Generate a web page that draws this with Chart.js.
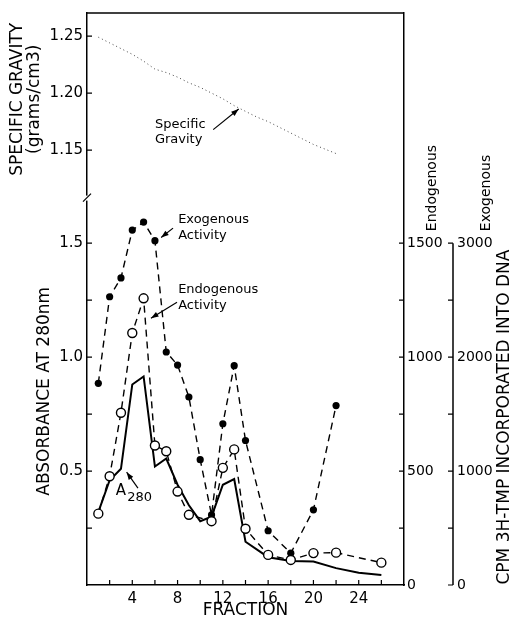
<!DOCTYPE html>
<html>
<head>
<meta charset="utf-8">
<script src="https://cdn.jsdelivr.net/npm/chart.js@4.4.0/dist/chart.umd.min.js"></script>
<style>
  body { margin: 0; background: #fff; }
</style>
</head>
<body>
<canvas id="grafico" width="516" height="621"></canvas>
<script>
// valores
const fracA280 = [1, 2, 3, 4, 5, 6, 7, 8, 9, 10, 11, 12, 13, 14, 16, 18, 20, 22, 24, 26];
const a280 = [0.32, 0.46, 0.51, 0.88, 0.915, 0.52, 0.555, 0.44, 0.35, 0.28, 0.30, 0.44, 0.465, 0.19, 0.122, 0.105, 0.103, 0.074, 0.054, 0.044];

const fracEndo = [1, 2, 3, 4, 5, 6, 7, 8, 9, 11, 12, 13, 14, 16, 18, 20, 22, 26];
const endogenous = [313, 477, 756, 1106, 1258, 612, 587, 410, 308, 280, 514, 595, 247, 132, 110, 140, 142, 98];

const fracExo = [1, 2, 3, 4, 5, 6, 7, 8, 9, 10, 11, 12, 13, 14, 16, 18, 20, 22];
const exogenous = [1770, 2530, 2695, 3115, 3185, 3022, 2045, 1930, 1650, 1100, 615, 1415, 1925, 1268, 476, 279, 660, 1575];

const fracSG = [1, 2, 3, 4, 5, 6, 7, 8, 9, 10, 11, 12, 13, 14, 15, 16, 17, 18, 19, 20, 21, 22];
const specificGravity = [1.249, 1.244, 1.239, 1.234, 1.228, 1.221, 1.218, 1.214, 1.209, 1.205, 1.200, 1.195, 1.189, 1.184, 1.179, 1.175, 1.170, 1.165, 1.160, 1.155, 1.151, 1.147];

// marcas e rotulos dos eixos
const xTicks = [2, 4, 6, 8, 10, 12, 14, 16, 18, 20, 22, 24, 26];
const xLabels = [4, 8, 12, 16, 20, 24];
const absTicks = [0.25, 0.5, 0.75, 1.0, 1.25, 1.5];
const absLabels = [0.5, 1.0, 1.5];
const sgTicks = [1.15, 1.20, 1.25];
const endoTicks = [0, 250, 500, 750, 1000, 1250, 1500];
const endoLabels = [0, 500, 1000, 1500];
const exoTicks = [0, 500, 1000, 1500, 2000, 2500, 3000];
const exoLabels = [0, 1000, 2000, 3000];

// pesos dos dois paineis (gravidade em cima, absorbancia embaixo)
const pesoTopo = 184.6;
const pesoBaixo = 387.4;
const absMax = 1.7;
const fatorAltura = (pesoTopo + pesoBaixo) / pesoBaixo;

Chart.defaults.font.family = 'DejaVu Sans';
Chart.defaults.color = '#000';

function pontos(xs, ys) {
  return xs.map((x, i) => ({ x: x, y: ys[i] }));
}

function perto(lista, v) {
  return lista.some(t => Math.abs(t - v) < 1e-6);
}

function fixarTicks(lista) {
  return s => { s.ticks = lista.map(v => ({ value: v })); };
}

function seta(ctx, x1, y1, x2, y2) {
  const ang = Math.atan2(y2 - y1, x2 - x1);
  ctx.beginPath();
  ctx.moveTo(x1, y1);
  ctx.lineTo(x2, y2);
  ctx.stroke();
  ctx.beginPath();
  ctx.moveTo(x2, y2);
  ctx.lineTo(x2 - 8 * Math.cos(ang - 0.35), y2 - 8 * Math.sin(ang - 0.35));
  ctx.lineTo(x2 - 8 * Math.cos(ang + 0.35), y2 - 8 * Math.sin(ang + 0.35));
  ctx.closePath();
  ctx.fill();
}

function textoVertical(ctx, txt, x, y, align) {
  ctx.save();
  ctx.translate(x, y);
  ctx.rotate(-Math.PI / 2);
  ctx.textAlign = align;
  ctx.textBaseline = 'middle';
  ctx.fillText(txt, 0, 0);
  ctx.restore();
}

const extras = {
  id: 'extras',
  afterDraw(chart) {
    const ctx = chart.ctx;
    const area = chart.chartArea;
    const sx = chart.scales.x;
    const sy = chart.scales.y;
    const sg = chart.scales.ySG;
    const en = chart.scales.yEndo;
    const ex = chart.scales.yExo;

    ctx.save();
    ctx.strokeStyle = '#000';
    ctx.fillStyle = '#000';
    ctx.lineWidth = 1.5;

    // borda de cima
    ctx.beginPath();
    ctx.moveTo(area.left, area.top);
    ctx.lineTo(area.right, area.top);
    ctx.stroke();

    // eixo exogenous so de 0 a 3000
    ctx.beginPath();
    ctx.moveTo(ex.left, ex.getPixelForValue(0));
    ctx.lineTo(ex.left, ex.getPixelForValue(3000));
    ctx.stroke();

    // marcas para dentro
    ctx.lineWidth = 1.2;
    ctx.beginPath();
    sx.ticks.forEach(t => {
      const px = sx.getPixelForValue(t.value);
      ctx.moveTo(px, area.bottom);
      ctx.lineTo(px, area.bottom - 5);
    });
    sy.ticks.forEach(t => {
      const py = sy.getPixelForValue(t.value);
      ctx.moveTo(area.left, py);
      ctx.lineTo(area.left + 5, py);
    });
    sg.ticks.forEach(t => {
      const py = sg.getPixelForValue(t.value);
      ctx.moveTo(area.left, py);
      ctx.lineTo(area.left + 5, py);
    });
    en.ticks.forEach(t => {
      if (t.value <= 0) return;
      const py = en.getPixelForValue(t.value);
      ctx.moveTo(area.right, py);
      ctx.lineTo(area.right - 5, py);
    });
    ex.ticks.forEach(t => {
      const py = ex.getPixelForValue(t.value);
      ctx.moveTo(ex.left, py);
      ctx.lineTo(ex.left - 5, py);
    });
    ctx.stroke();

    // quebra do eixo
    const yq = sy.getPixelForValue(absMax);
    ctx.fillStyle = '#fff';
    ctx.fillRect(area.left - 2, yq - 2, 4, 5);
    ctx.fillStyle = '#000';
    ctx.lineWidth = 1.3;
    ctx.beginPath();
    ctx.moveTo(area.left - 4, yq + 4);
    ctx.lineTo(area.left + 4, yq - 4);
    ctx.stroke();

    // titulos dos eixos
    ctx.font = '17px "DejaVu Sans"';
    textoVertical(ctx, 'SPECIFIC GRAVITY', 18, (area.top + yq) / 2 - 6, 'center');
    textoVertical(ctx, '(grams/cm3)', 35, (area.top + yq) / 2 - 6, 'center');
    textoVertical(ctx, 'ABSORBANCE AT 280nm', 45, (yq + area.bottom) / 2, 'center');
    textoVertical(ctx, 'CPM 3H-TMP INCORPORATED INTO DNA', 505, sy.getPixelForValue(0.75) + 3, 'center');
    ctx.font = '14px "DejaVu Sans"';
    textoVertical(ctx, 'Endogenous', 432, en.getPixelForValue(1500) - 12, 'left');
    textoVertical(ctx, 'Exogenous', 486, ex.getPixelForValue(3000) - 12, 'left');

    // anotacoes
    ctx.font = '13px "DejaVu Sans"';
    ctx.textAlign = 'left';
    ctx.textBaseline = 'middle';
    ctx.lineWidth = 1.2;
    ctx.fillText('Specific', sx.getPixelForValue(6.0), sg.getPixelForValue(1.172));
    ctx.fillText('Gravity', sx.getPixelForValue(6.0), sg.getPixelForValue(1.159));
    seta(ctx, sx.getPixelForValue(11.15), sg.getPixelForValue(1.168), sx.getPixelForValue(13.4), sg.getPixelForValue(1.186));

    ctx.fillText('Exogenous', sx.getPixelForValue(8.05), sy.getPixelForValue(1.605));
    ctx.fillText('Activity', sx.getPixelForValue(8.05), sy.getPixelForValue(1.535));
    seta(ctx, sx.getPixelForValue(7.6), sy.getPixelForValue(1.566), sx.getPixelForValue(6.55), sy.getPixelForValue(1.525));

    ctx.fillText('Endogenous', sx.getPixelForValue(8.05), sy.getPixelForValue(1.294));
    ctx.fillText('Activity', sx.getPixelForValue(8.05), sy.getPixelForValue(1.228));
    seta(ctx, sx.getPixelForValue(7.95), sy.getPixelForValue(1.241), sx.getPixelForValue(5.65), sy.getPixelForValue(1.171));

    ctx.font = '15px "DejaVu Sans"';
    ctx.fillText('A', sx.getPixelForValue(2.55), sy.getPixelForValue(0.41));
    ctx.font = '13px "DejaVu Sans"';
    ctx.fillText('280', sx.getPixelForValue(3.55), sy.getPixelForValue(0.385));
    seta(ctx, sx.getPixelForValue(4.5), sy.getPixelForValue(0.425), sx.getPixelForValue(3.5), sy.getPixelForValue(0.495));

    ctx.restore();
  }
};

const semGrade = { display: false, drawTicks: false };
const borda = { display: true, color: '#000', width: 1.5 };

new Chart(document.getElementById('grafico'), {
  type: 'line',
  data: {
    datasets: [
      {
        label: 'Endogenous',
        yAxisID: 'yEndo',
        data: pontos(fracEndo, endogenous),
        borderColor: '#000',
        borderWidth: 1.4,
        borderDash: [7, 5],
        pointRadius: 4.5,
        pointBackgroundColor: '#fff',
        pointBorderColor: '#000',
        pointBorderWidth: 1.4
      },
      {
        label: 'Exogenous',
        yAxisID: 'yExo',
        data: pontos(fracExo, exogenous),
        borderColor: '#000',
        borderWidth: 1.4,
        borderDash: [7, 5],
        pointRadius: 3.6,
        pointBackgroundColor: '#000',
        pointBorderColor: '#000',
        pointBorderWidth: 0
      },
      {
        label: 'A280',
        yAxisID: 'y',
        data: pontos(fracA280, a280),
        borderColor: '#000',
        borderWidth: 2,
        pointRadius: 0
      },
      {
        label: 'Specific Gravity',
        yAxisID: 'ySG',
        data: pontos(fracSG, specificGravity),
        borderColor: '#444',
        borderWidth: 1,
        borderDash: [1, 3],
        pointRadius: 0
      }
    ]
  },
  options: {
    responsive: false,
    animation: false,
    layout: { padding: { top: 13, left: 0, right: 0, bottom: 0 } },
    plugins: { legend: { display: false }, tooltip: { enabled: false } },
    scales: {
      x: {
        type: 'linear',
        position: 'bottom',
        min: 0,
        max: 28,
        grid: semGrade,
        border: borda,
        ticks: {
          autoSkip: false,
          maxRotation: 0,
          padding: 5,
          font: { size: 15 },
          callback: v => perto(xLabels, v) ? String(v) : ''
        },
        afterBuildTicks: fixarTicks(xTicks),
        title: { display: true, text: 'FRACTION', font: { size: 17 }, padding: 0 },
        afterFit: s => { s.height = 36; }
      },
      // painel de baixo primeiro: a pilha da esquerda e montada ao contrario
      y: {
        type: 'linear',
        position: 'left',
        stack: 'esquerda',
        stackWeight: pesoBaixo,
        min: 0,
        max: absMax,
        grid: semGrade,
        border: borda,
        ticks: {
          autoSkip: false,
          padding: 4,
          font: { size: 15 },
          callback: v => perto(absLabels, v) ? v.toFixed(1) : ''
        },
        afterBuildTicks: fixarTicks(absTicks),
        afterFit: s => { s.width = 87; }
      },
      ySG: {
        type: 'linear',
        position: 'left',
        stack: 'esquerda',
        stackWeight: pesoTopo,
        min: 1.1084,
        max: 1.2702,
        grid: semGrade,
        border: borda,
        ticks: {
          autoSkip: false,
          padding: 4,
          font: { size: 15 },
          callback: v => v.toFixed(2)
        },
        afterBuildTicks: fixarTicks(sgTicks),
        afterFit: s => { s.width = 87; }
      },
      yEndo: {
        type: 'linear',
        position: 'right',
        min: 0,
        max: 1000 * absMax * fatorAltura,
        grid: semGrade,
        border: borda,
        ticks: {
          autoSkip: false,
          padding: 3,
          font: { size: 14 },
          callback: v => perto(endoLabels, v) ? String(v) : ''
        },
        afterBuildTicks: fixarTicks(endoTicks),
        afterFit: s => { s.width = 49; }
      },
      yExo: {
        type: 'linear',
        position: 'right',
        min: 0,
        max: 2000 * absMax * fatorAltura,
        grid: semGrade,
        border: { display: false },
        ticks: {
          autoSkip: false,
          padding: 4,
          font: { size: 14 },
          callback: v => perto(exoLabels, v) ? String(v) : ''
        },
        afterBuildTicks: fixarTicks(exoTicks),
        afterFit: s => { s.width = 63; }
      }
    }
  },
  plugins: [extras]
});
</script>
</body>
</html>
